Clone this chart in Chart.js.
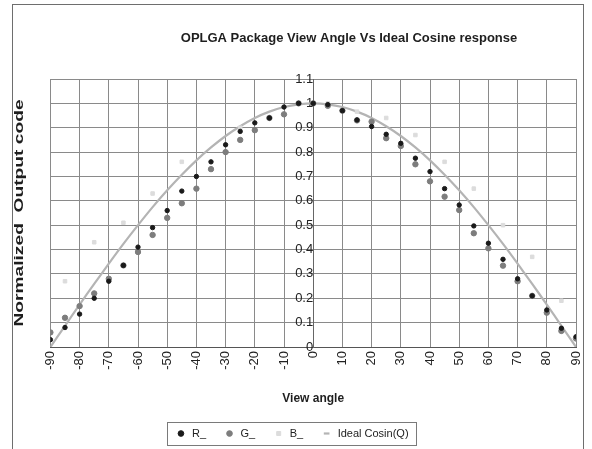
<!DOCTYPE html>
<html>
<head>
<meta charset="utf-8">
<script src="https://cdn.jsdelivr.net/npm/chart.js@4/dist/chart.umd.min.js"></script>
<style>
  html, body { margin: 0; padding: 0; background: #ffffff; }
  #wrap { width: 592px; height: 449px; }
</style>
</head>
<body>
<div id="wrap"><canvas id="c" width="592" height="449"></canvas></div>
<script>
// ---- data ----
const angles = [-90,-85,-80,-75,-70,-65,-60,-55,-50,-45,-40,-35,-30,-25,-20,-15,-10,-5,0,5,10,15,20,25,30,35,40,45,50,55,60,65,70,75,80,85,90];
const rValues = [0.03,0.08,0.135,0.20,0.27,0.335,0.41,0.49,0.56,0.64,0.70,0.76,0.83,0.885,0.92,0.94,0.985,1.0,1.0,0.995,0.97,0.932,0.905,0.873,0.836,0.775,0.72,0.65,0.583,0.497,0.426,0.36,0.28,0.21,0.152,0.077,0.042];
const gValues = [0.06,0.12,0.168,0.22,0.28,0.335,0.39,0.46,0.53,0.59,0.65,0.73,0.80,0.85,0.89,0.94,0.955,1.0,1.0,0.99,0.97,0.93,0.925,0.857,0.825,0.75,0.68,0.617,0.562,0.467,0.405,0.334,0.27,0.21,0.141,0.066,0.035];
const bAngles = [-85,-75,-65,-55,-45,-25,5,15,25,35,45,55,65,75,85];
const bValues = [0.27,0.43,0.51,0.63,0.76,0.90,1.0,0.966,0.94,0.87,0.76,0.65,0.50,0.37,0.19];
const cosValues = [0,0.087,0.174,0.259,0.342,0.423,0.5,0.574,0.643,0.707,0.766,0.819,0.866,0.906,0.94,0.966,0.985,0.996,1,0.996,0.985,0.966,0.94,0.906,0.866,0.819,0.766,0.707,0.643,0.574,0.5,0.423,0.342,0.259,0.174,0.087,0];
const xTickValues = [-90,-80,-70,-60,-50,-40,-30,-20,-10,0,10,20,30,40,50,60,70,80,90];
const yTickValues = [0,0.1,0.2,0.3,0.4,0.5,0.6,0.7,0.8,0.9,1.0,1.1];
const seriesNames = ['R_', 'G_', 'B_', 'Ideal Cosin(Q)'];
const titleText = 'OPLGA Package View Angle Vs Ideal Cosine response';
const xTitle = 'View angle';
const yTitle = 'Normalized  Output code';

const pts = (xs, ys) => xs.map((x, i) => ({ x: x, y: ys[i] }));
const FONT = "'Liberation Sans', Arial, sans-serif";

const framePlugin = {
  id: 'frame',
  beforeDraw(chart) {
    const ctx = chart.ctx;
    ctx.save();
    ctx.fillStyle = '#ffffff';
    ctx.fillRect(0, 0, chart.width, chart.height);
    ctx.strokeStyle = '#6e6e6e';
    ctx.lineWidth = 1;
    ctx.strokeRect(12.5, 4.5, 571, 470);
    ctx.restore();
  },
  afterLayout(chart) {
    // shift the title block so the title sits where the reference has it
    const tb = chart.titleBlock;
    if (tb) { tb.left = 106; tb.right = chart.width; }
  },
  afterDraw(chart) {
    const lg = chart.legend;
    if (!lg || !lg.legendHitBoxes || !lg.legendHitBoxes.length) return;
    const hb = lg.legendHitBoxes;
    const x0 = hb[0].left - 8;
    const last = hb[hb.length - 1];
    const x1 = last.left + last.width + 8;
    const y0 = hb[0].top - 6;
    const y1 = hb[0].top + hb[0].height + 6;
    const ctx = chart.ctx;
    ctx.save();
    ctx.strokeStyle = '#7a7a7a';
    ctx.lineWidth = 1;
    ctx.strokeRect(Math.round(x0) + 0.5, Math.round(y0) + 0.5, Math.round(x1 - x0), Math.round(y1 - y0));
    ctx.restore();
  }
};

// the reference's rotated y title is stretched along its length
function stretchTitle(axis) {
  if (axis._stretched) return;
  axis._stretched = true;
  const orig = axis.drawTitle.bind(axis);
  axis.drawTitle = function () {
    const ctx = axis.ctx;
    const cy = (axis.top + axis.bottom) / 2;
    ctx.save();
    ctx.translate(0, cy);
    ctx.scale(1, 1.6);
    ctx.translate(0, -cy);
    orig();
    ctx.restore();
  };
}

new Chart(document.getElementById('c'), {
  type: 'scatter',
  data: {
    datasets: [
      { label: seriesNames[0], data: pts(angles, rValues), backgroundColor: '#1a1a1a', borderColor: '#1a1a1a',
        pointRadius: 2.2, pointStyle: 'circle', order: 1 },
      { label: seriesNames[1], data: pts(angles, gValues), backgroundColor: '#7d7d7d', borderColor: '#7d7d7d',
        pointRadius: 2.7, pointStyle: 'circle', order: 2 },
      { label: seriesNames[2], data: pts(bAngles, bValues), backgroundColor: '#dcdcdc', borderColor: '#dcdcdc',
        pointRadius: 2.5, pointStyle: 'rect', order: 3 },
      { label: seriesNames[3], data: pts(angles, cosValues), showLine: true, borderColor: '#b4b4b4',
        backgroundColor: '#b4b4b4', borderWidth: 2.2, pointRadius: 0, pointStyle: 'line', tension: 0.3, order: 4 }
    ]
  },
  options: {
    responsive: false,
    animation: false,
    layout: { padding: { left: 8, right: 16, top: 0, bottom: 0 } },
    plugins: {
      title: { display: true, text: titleText, color: '#1e1e1e',
        font: { family: FONT, size: 13, weight: 'bold' }, padding: { top: 31, bottom: 32.4 } },
      legend: { display: true, position: 'bottom',
        labels: { usePointStyle: true, boxWidth: 11, boxHeight: 4, padding: 18, color: '#222',
          font: { family: FONT, size: 11 } } },
      tooltip: { enabled: false }
    },
    scales: {
      x: {
        type: 'linear', position: 'bottom', min: -90, max: 90,
        afterBuildTicks: axis => { axis.ticks = xTickValues.map(v => ({ value: v })); },
        afterFit: axis => { axis.paddingLeft = 2; axis.paddingRight = 2; },
        ticks: { maxRotation: 90, minRotation: 90, padding: 4, color: '#222',
          font: { family: FONT, size: 13 } },
        grid: { color: '#8a8a8a', lineWidth: 1, drawTicks: false },
        border: { color: '#555', width: 1 },
        title: { display: true, text: xTitle, color: '#1e1e1e',
          font: { family: FONT, size: 12, weight: 'bold' }, padding: { top: 18, bottom: 3.8 } }
      },
      y: {
        type: 'linear', position: { x: 0 }, min: 0, max: 1.1,
        afterBuildTicks: axis => { axis.ticks = yTickValues.map(v => ({ value: v })); },
        ticks: { padding: 4, color: '#222', font: { family: FONT, size: 13 },
          callback: v => String(Number(v.toFixed(1))) },
        grid: { color: '#8a8a8a', lineWidth: 1, drawTicks: false },
        border: { color: '#666', width: 1 }
      },
      yTitle: {
        type: 'linear', position: 'left', min: 0, max: 1.1,
        afterFit: stretchTitle,
        ticks: { display: false },
        grid: { display: false, drawTicks: false },
        border: { display: false },
        title: { display: true, text: yTitle, color: '#1e1e1e',
          font: { family: FONT, size: 12, weight: 'bold' }, padding: { top: 4, bottom: 24 } }
      }
    }
  },
  plugins: [framePlugin]
});
</script>
</body>
</html>
